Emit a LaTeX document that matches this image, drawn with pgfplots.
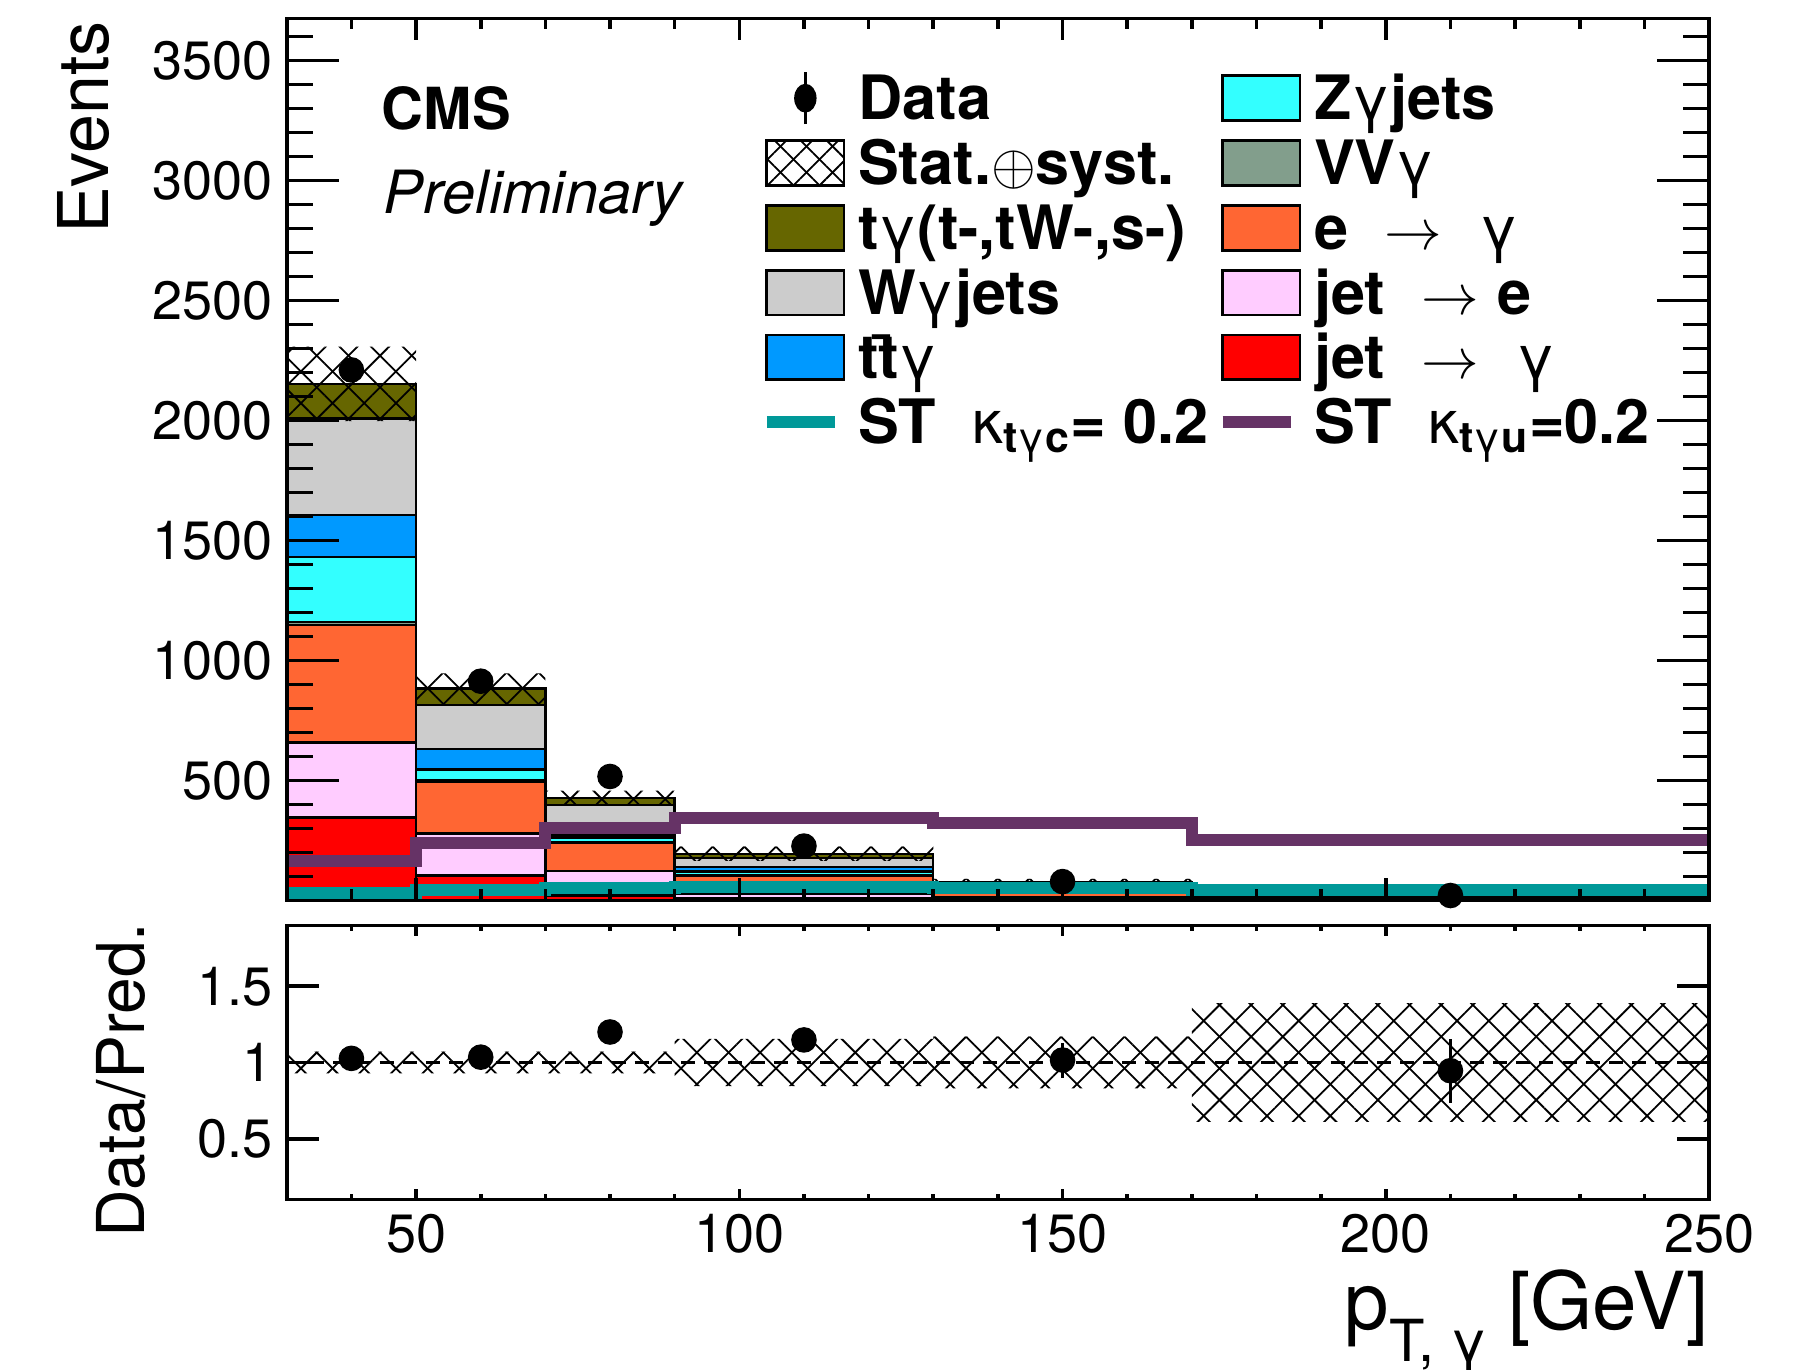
\documentclass[border=0pt]{standalone}
\usepackage{fontspec}
\setmainfont{TeX Gyre Heros}
\usepackage{pgfplots}
\pgfplotsset{compat=1.18}
\usepackage{pgfplotstable}
\usetikzlibrary{patterns.meta}

\definecolor{tgam}{HTML}{666600}
\definecolor{wgam}{HTML}{CCCCCC}
\definecolor{ttgam}{HTML}{0099FF}
\definecolor{zgam}{HTML}{33FFFF}
\definecolor{vvgam}{HTML}{829E8C}
\definecolor{egam}{HTML}{FF6633}
\definecolor{jete}{HTML}{FFCCFF}
\definecolor{jetg}{HTML}{FF0000}
\definecolor{stc}{HTML}{009999}
\definecolor{stu}{HTML}{663366}

% cumulative stack heights at the low edge of each bin (last row only closes 170-250)
\pgfplotstableread{
x    jetg  jete  egam  vv    zg    ttg   wg    tg
30   345   658   1148  1160  1430  1605  2007  2152
50   104   279   495   500   545   630   815   882
70   20    121   239   244   262   271   396   426
90   10    28    104   106   120   139   176   194
130  5     12    38    39    46    55    69    76
170  2     4     11    11.5  13.5  16    19    21
250  2     4     11    11.5  13.5  16    19    21
}\stack

\pgfplotstableread{
x    y     ey
40   2210  47
60   913   30
80   516   23
110  226   15
150  78    9
210  20    4.5
}\data

\pgfplotstableread{
x    y      ey
40   1.027  0.022
60   1.035  0.034
80   1.200  0.053
110  1.148  0.077
150  1.016  0.115
210  0.946  0.21
}\ratio

\pgfplotstableread{
x    c   u
30   30  164
50   41  240
70   51  303
90   55  344
130  51  323
170  41  250
250  41  250
}\sig

\pgfplotsset{
  cms/.style={scale only axis, width=355.6pt, xmin=30, xmax=250,
    tick align=inside, tick pos=both,
    axis line style={line width=0.9pt},
    tick style={black, line width=0.9pt},
    ticklabel style={font=\fontsize{13.5}{14}\selectfont},
    /pgf/number format/assume math mode=true,
    /pgf/number format/1000 sep={},
    scaled y ticks=false},
  hatchA/.style={draw=none, pattern={Lines[angle=45,distance=5.6pt,line width=0.45pt]}},
  hatchB/.style={draw=none, pattern={Lines[angle=-45,distance=5.6pt,line width=0.45pt]}},
  bars/.style={ybar interval, draw=black, line width=0.6pt, forget plot},
}
\newcommand\legbox[1]{\addlegendimage{legend image code/.code={%
  \draw[fill=#1,draw=black,line width=0.7pt] (0pt,-5.6pt) rectangle (19.3pt,5.6pt);}}}
\newcommand\g{{\mdseries γ}}

\begin{document}
\begin{tikzpicture}
\begin{axis}[cms, name=top, at={(0,0)}, anchor=south west, height=220.5pt,
  ymin=0, ymax=3675, xtick=\empty,
  ytick={500,1000,...,3500}, minor ytick={100,200,...,3600},
  major tick length=13pt, minor tick length=6.5pt,
  axis on top,
  legend columns=2, legend cell align=left,
  legend style={at={(0.3327,0.9426)}, anchor=north west, draw=none, fill=none,
    inner sep=0pt, font=\fontsize{15.3}{16}\selectfont\bfseries, row sep=2pt,
    nodes={inner xsep=2pt, inner ysep=0.5pt, text height=12pt, text depth=1.2pt},
    /tikz/every odd column/.append style={column sep=1.2pt},
    /tikz/every even column/.append style={column sep=0pt}},
]
  % legend, filled row by row
  \addlegendimage{legend image code/.code={%
    \draw[line width=0.8pt] (9.65pt,-6.5pt)--(9.65pt,6.5pt);
    \fill (9.65pt,0pt) circle[x radius=2.6pt, y radius=3.4pt];}}
  \addlegendentry{Data}
  \legbox{zgam}\addlegendentry{Z\g jets}
  \addlegendimage{legend image code/.code={%
    \fill[pattern={Lines[angle=45,distance=4.6pt,line width=0.45pt]}] (0pt,-5.6pt) rectangle (19.3pt,5.6pt);
    \fill[pattern={Lines[angle=-45,distance=4.6pt,line width=0.45pt]}] (0pt,-5.6pt) rectangle (19.3pt,5.6pt);
    \draw[line width=0.7pt] (0pt,-5.6pt) rectangle (19.3pt,5.6pt);}}
  \addlegendentry{Stat.$\oplus$syst.}
  \legbox{vvgam}\addlegendentry{VV\g}
  \legbox{tgam}\addlegendentry{t\g(t-,tW-,s-)}
  \legbox{egam}\addlegendentry{e\hspace{0.6em}$\rightarrow$\hspace{0.6em}\g}
  \legbox{wgam}\addlegendentry{W\g jets}
  \legbox{jete}\addlegendentry{jet\hspace{0.6em}$\rightarrow$\hspace{0.3em}e}
  \legbox{ttgam}\addlegendentry{t\=t\g}
  \legbox{jetg}\addlegendentry{jet\hspace{0.6em}$\rightarrow$\hspace{0.6em}\g}
  \addlegendimage{stc, line width=3pt}
  \addlegendentry{ST\hspace{0.6em}{\mdseries κ}\textsubscript{t\g c}= 0.2}
  \addlegendimage{stu, line width=3pt}
  \addlegendentry{ST\hspace{0.6em}{\mdseries κ}\textsubscript{t\g u}=0.2}

  % stack, drawn from the total down
  \addplot[bars, fill=tgam]  table[x=x, y=tg]   {\stack};
  \addplot[bars, fill=wgam]  table[x=x, y=wg]   {\stack};
  \addplot[bars, fill=ttgam] table[x=x, y=ttg]  {\stack};
  \addplot[bars, fill=zgam]  table[x=x, y=zg]   {\stack};
  \addplot[bars, fill=vvgam] table[x=x, y=vv]   {\stack};
  \addplot[bars, fill=egam]  table[x=x, y=egam] {\stack};
  \addplot[bars, fill=jete]  table[x=x, y=jete] {\stack};
  \addplot[bars, fill=jetg]  table[x=x, y=jetg] {\stack};

  % uncertainty band
  \addplot[hatchA, forget plot] coordinates {(30,2307)(50,2307)(50,946)(70,946)(70,457)(90,457)(90,224)(130,224)(130,89)(170,89)(170,29)(250,29)
    (250,13)(170,13)(170,63)(130,63)(130,164)(90,164)(90,395)(70,395)(70,818)(50,818)(50,1997)(30,1997)} --cycle;
  \addplot[hatchB, forget plot] coordinates {(30,2307)(50,2307)(50,946)(70,946)(70,457)(90,457)(90,224)(130,224)(130,89)(170,89)(170,29)(250,29)
    (250,13)(170,13)(170,63)(130,63)(130,164)(90,164)(90,395)(70,395)(70,818)(50,818)(50,1997)(30,1997)} --cycle;

  \addplot[only marks, mark=*, mark size=3pt, black, forget plot,
    error bars/.cd, y dir=both, y explicit, error mark=none,
    error bar style={line width=0.8pt}] table[x=x, y=y, y error=ey] {\data};

  \addplot[const plot, stc, line width=3pt, forget plot] table[x=x, y=c] {\sig};
  \addplot[const plot, stu, line width=3pt, forget plot] table[x=x, y=u] {\sig};
\end{axis}
% x ticks of the upper pad (shorter than the y ticks)
\begin{axis}[cms, at={(0,0)}, anchor=south west, height=220.5pt, ymin=0, ymax=1,
  hide y axis, xtick={50,100,...,250}, minor xtick={30,40,...,250}, xticklabels={},
  major tick length=5.5pt, minor tick length=2.75pt]
\end{axis}

\begin{axis}[cms, name=bot, at={(0,-6.25pt)}, anchor=north west, height=68.6pt,
  ymin=0.1, ymax=1.9, xtick=\empty, ytick={0.5,1,1.5},
  major tick length=8pt, axis on top]
  \addplot[hatchA, forget plot] coordinates {(30,1.072)(90,1.072)(90,1.155)(130,1.155)(130,1.17)(170,1.17)(170,1.39)(250,1.39)
    (250,0.61)(170,0.61)(170,0.83)(130,0.83)(130,0.845)(90,0.845)(90,0.928)(30,0.928)} --cycle;
  \addplot[hatchB, forget plot] coordinates {(30,1.072)(90,1.072)(90,1.155)(130,1.155)(130,1.17)(170,1.17)(170,1.39)(250,1.39)
    (250,0.61)(170,0.61)(170,0.83)(130,0.83)(130,0.845)(90,0.845)(90,0.928)(30,0.928)} --cycle;
  \addplot[black, line width=0.6pt, dash pattern=on 3.5pt off 2.3pt, forget plot] coordinates {(30,1)(250,1)};
  \addplot[only marks, mark=*, mark size=3pt, black, forget plot,
    error bars/.cd, y dir=both, y explicit, error mark=none,
    error bar style={line width=0.8pt}] table[x=x, y=y, y error=ey] {\ratio};
\end{axis}
\begin{axis}[cms, at={(0,-6.25pt)}, anchor=north west, height=68.6pt, ymin=0, ymax=1,
  hide y axis, xtick={50,100,...,250}, minor xtick={30,40,...,250},
  major tick length=2.75pt, minor tick length=1.5pt]
\end{axis}

\node[rotate=90, anchor=east, inner sep=0pt, font=\fontsize{17.5}{18}\selectfont] at ([xshift=-50.9pt, yshift=-0.5pt]top.north west) {Events};
\node[rotate=90, anchor=east, inner sep=0pt, font=\fontsize{16.5}{17}\selectfont] at ([xshift=-41.5pt, yshift=0.8pt]bot.north west) {Data/Pred.};
\node[anchor=base east, inner sep=0pt, font=\fontsize{20}{22}\selectfont] at ([yshift=-32.5pt]bot.south east)
  {p\raisebox{-8pt}{\fontsize{14.5}{15}\selectfont T, γ}\hspace{0.25em}[GeV]};
\node[anchor=base west, inner sep=0pt, font=\fontsize{14.5}{16}\selectfont\bfseries] at ([xshift=23.6pt, yshift=-27.7pt]top.north west) {CMS};
\node[anchor=base west, inner sep=0pt, font=\fontsize{14.9}{16}\selectfont\itshape] at ([xshift=24.1pt, yshift=-48.9pt]top.north west) {Preliminary};

\pgfresetboundingbox
\path[use as bounding box] (-71.7pt,-117.25pt) rectangle (379.35pt,225.1pt);
\end{tikzpicture}
\end{document}
